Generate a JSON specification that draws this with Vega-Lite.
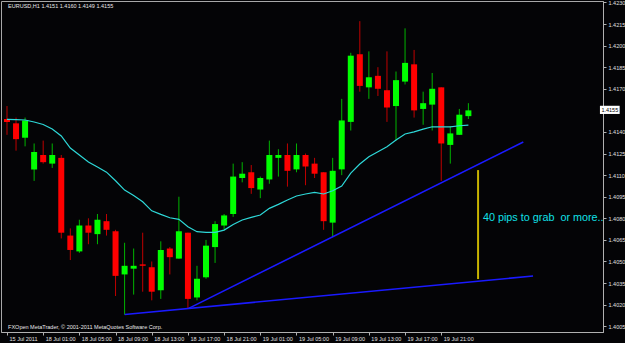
{
  "$schema": "https://vega.github.io/schema/vega-lite/v6.json",
  "width": 602,
  "height": 331,
  "autosize": {"type": "none"},
  "padding": {"left": 1, "top": 1, "right": 22, "bottom": 11},
  "background": "#040406",
  "config": {
    "view": {"stroke": "#a8a8a8", "strokeWidth": 1},
    "axis": {"grid": false, "title": null, "domainColor": "#b0b0b0", "tickColor": "#b0b0b0", "labelColor": "#e0e0e0", "labelFont": "Liberation Sans", "labelFontSize": 5.5, "tickSize": 3, "labelOverlap": false}
  },
  "datasets": {
    "candles": [
      {"i":0,"o":1.4149,"h":1.4158,"l":1.4138,"c":1.4147,"ma":1.41488},
      {"i":1,"o":1.4146,"h":1.4150,"l":1.4127,"c":1.4135,"ma":1.41486},
      {"i":2,"o":1.4136,"h":1.4150,"l":1.4130,"c":1.4148,"ma":1.41483},
      {"i":3,"o":1.4114,"h":1.4132,"l":1.4106,"c":1.4126,"ma":1.41469},
      {"i":4,"o":1.4124,"h":1.4134,"l":1.4118,"c":1.4119,"ma":1.41452},
      {"i":5,"o":1.4118,"h":1.4132,"l":1.4115,"c":1.4124,"ma":1.41420},
      {"i":6,"o":1.4122,"h":1.4124,"l":1.4066,"c":1.4070,"ma":1.41372},
      {"i":7,"o":1.4068,"h":1.4073,"l":1.4051,"c":1.4058,"ma":1.41288},
      {"i":8,"o":1.4057,"h":1.4079,"l":1.4056,"c":1.4075,"ma":1.41240},
      {"i":9,"o":1.4075,"h":1.4080,"l":1.4062,"c":1.4070,"ma":1.41191},
      {"i":10,"o":1.4069,"h":1.4083,"l":1.4062,"c":1.4079,"ma":1.41156},
      {"i":11,"o":1.4078,"h":1.4083,"l":1.4068,"c":1.4072,"ma":1.41121},
      {"i":12,"o":1.4071,"h":1.4072,"l":1.4026,"c":1.4040,"ma":1.41061},
      {"i":13,"o":1.4041,"h":1.4063,"l":1.4013,"c":1.4047,"ma":1.40996},
      {"i":14,"o":1.4045,"h":1.4059,"l":1.4027,"c":1.4047,"ma":1.40958},
      {"i":15,"o":1.4048,"h":1.4070,"l":1.4029,"c":1.4047,"ma":1.40915},
      {"i":16,"o":1.4046,"h":1.4050,"l":1.4023,"c":1.4029,"ma":1.40852},
      {"i":17,"o":1.4030,"h":1.4064,"l":1.4024,"c":1.4058,"ma":1.40827},
      {"i":18,"o":1.4059,"h":1.4060,"l":1.4041,"c":1.4053,"ma":1.40804},
      {"i":19,"o":1.4052,"h":1.4095,"l":1.4052,"c":1.4071,"ma":1.40793},
      {"i":20,"o":1.4070,"h":1.4070,"l":1.4017,"c":1.4024,"ma":1.40741},
      {"i":21,"o":1.4025,"h":1.4047,"l":1.4023,"c":1.4038,"ma":1.40707},
      {"i":22,"o":1.4039,"h":1.4065,"l":1.4038,"c":1.4061,"ma":1.40702},
      {"i":23,"o":1.4060,"h":1.4078,"l":1.4049,"c":1.4076,"ma":1.40702},
      {"i":24,"o":1.4075,"h":1.4083,"l":1.4072,"c":1.4082,"ma":1.40718},
      {"i":25,"o":1.4083,"h":1.4118,"l":1.4081,"c":1.4109,"ma":1.40757},
      {"i":26,"o":1.4108,"h":1.4119,"l":1.4105,"c":1.4111,"ma":1.40788},
      {"i":27,"o":1.4112,"h":1.4117,"l":1.4097,"c":1.4101,"ma":1.40807},
      {"i":28,"o":1.4100,"h":1.4109,"l":1.4094,"c":1.4108,"ma":1.40823},
      {"i":29,"o":1.4107,"h":1.4134,"l":1.4104,"c":1.4124,"ma":1.40869},
      {"i":30,"o":1.4122,"h":1.4128,"l":1.4109,"c":1.4124,"ma":1.40897},
      {"i":31,"o":1.4124,"h":1.4132,"l":1.4102,"c":1.4113,"ma":1.40927},
      {"i":32,"o":1.4114,"h":1.4132,"l":1.4112,"c":1.4124,"ma":1.40955},
      {"i":33,"o":1.4124,"h":1.4125,"l":1.4103,"c":1.4116,"ma":1.40969},
      {"i":34,"o":1.4118,"h":1.4122,"l":1.4108,"c":1.4111,"ma":1.40980},
      {"i":35,"o":1.4112,"h":1.4112,"l":1.4072,"c":1.4078,"ma":1.40969},
      {"i":36,"o":1.4077,"h":1.4122,"l":1.4067,"c":1.4113,"ma":1.40991},
      {"i":37,"o":1.4114,"h":1.4163,"l":1.4110,"c":1.4148,"ma":1.41024},
      {"i":38,"o":1.4147,"h":1.4195,"l":1.4141,"c":1.4193,"ma":1.41114},
      {"i":39,"o":1.4194,"h":1.4217,"l":1.4168,"c":1.4172,"ma":1.41177},
      {"i":40,"o":1.4171,"h":1.4196,"l":1.4163,"c":1.4178,"ma":1.41228},
      {"i":41,"o":1.4179,"h":1.4185,"l":1.4165,"c":1.4170,"ma":1.41262},
      {"i":42,"o":1.4169,"h":1.4196,"l":1.4147,"c":1.4157,"ma":1.41297},
      {"i":43,"o":1.4158,"h":1.4182,"l":1.4134,"c":1.4176,"ma":1.41344},
      {"i":44,"o":1.4175,"h":1.4212,"l":1.4173,"c":1.4188,"ma":1.41386},
      {"i":45,"o":1.4187,"h":1.4197,"l":1.4150,"c":1.4155,"ma":1.41401},
      {"i":46,"o":1.4156,"h":1.4168,"l":1.4145,"c":1.4160,"ma":1.41420},
      {"i":47,"o":1.4159,"h":1.4181,"l":1.4141,"c":1.4170,"ma":1.41436},
      {"i":48,"o":1.4171,"h":1.4171,"l":1.4106,"c":1.4132,"ma":1.41436},
      {"i":49,"o":1.4131,"h":1.4144,"l":1.4118,"c":1.4139,"ma":1.41436},
      {"i":50,"o":1.4138,"h":1.4156,"l":1.4138,"c":1.4152,"ma":1.41443},
      {"i":51,"o":1.4151,"h":1.4160,"l":1.4149,"c":1.4155,"ma":1.41448}
    ],
    "trend": [
      {"id":"lower","ix":13.01,"p":1.40132},
      {"id":"lower","ix":58.15,"p":1.40399},
      {"id":"upper","ix":20.08,"p":1.40174},
      {"id":"upper","ix":57.07,"p":1.4133}
    ],
    "marker": [
      {"ix":52.07,"top":1.41135,"bot":1.40378}
    ],
    "notes": [
      {"kind":"title","ix":0.12,"p":1.42277,"txt":"EURUSD,H1  1.4151 1.4160 1.4149 1.4155"},
      {"kind":"footer","ix":0.12,"p":1.40044,"txt":"FXOpen MetaTrader, © 2001-2011 MetaQuotes Software Corp."},
      {"kind":"pips","ix":52.61,"p":1.40781,"txt":"40 pips to grab \u00a0or more.."}
    ],
    "bid": [
      {"x1":65.54,"x2":67.72,"lo":1.41525,"hi":1.41582,"xm":66.63,"pm":1.41553,"txt":"1.4155"}
    ]
  },
  "layer": [
    {
      "data": {"name": "candles"},
      "mark": {"type": "rule", "strokeWidth": 1, "clip": true},
      "encoding": {
        "x": {"field": "i", "type": "quantitative", "title": null,
          "scale": {"domain": [-0.109, 65.326], "nice": false, "zero": false},
          "axis": {"values": [0,4,8,12,16,20,24,28,32,36,40,44,48], "tickCount": 60,
            "labelExpr": "['15 Jul 2011','18 Jul 01:00','18 Jul 05:00','18 Jul 09:00','18 Jul 13:00','18 Jul 17:00','18 Jul 21:00','19 Jul 01:00','19 Jul 05:00','19 Jul 09:00','19 Jul 13:00','19 Jul 17:00','19 Jul 21:00'][round(datum.value/4)]",
            "labelAlign": "left", "labelBaseline": "top", "labelPadding": 1, "labelOffset": 2,
            "labelFlush": false, "labelOverlap": false}},
        "y": {"field": "l", "type": "quantitative", "title": null,
          "scale": {"domain": [1.40010, 1.42310], "nice": false, "zero": false},
          "axis": {"orient": "right", "tickCount": 60,
            "values": [1.4005,1.402,1.4035,1.405,1.4065,1.408,1.4095,1.411,1.4125,1.414,1.417,1.4185,1.42,1.4215,1.423],
            "format": ".4f", "labelPadding": 2, "labelFlush": false, "labelOverlap": false, "labelBaseline": "middle"}},
        "y2": {"field": "h"},
        "color": {"condition": {"test": "datum.c >= datum.o", "value": "#00b400"}, "value": "#c00000"}
      }
    },
    {
      "data": {"name": "candles"},
      "mark": {"type": "bar", "width": 6, "clip": true},
      "encoding": {
        "x": {"field": "i", "type": "quantitative", "title": null},
        "y": {"field": "o", "type": "quantitative", "title": null},
        "y2": {"field": "c"},
        "color": {"condition": {"test": "datum.c >= datum.o", "value": "#00ff00"}, "value": "#ff0000"}
      }
    },
    {
      "data": {"name": "candles"},
      "mark": {"type": "line", "color": "#2ed8d8", "strokeWidth": 1.2, "clip": true},
      "encoding": {
        "x": {"field": "i", "type": "quantitative", "title": null},
        "y": {"field": "ma", "type": "quantitative", "title": null}
      }
    },
    {
      "data": {"name": "trend"},
      "mark": {"type": "line", "color": "#1a1aff", "strokeWidth": 1.6},
      "encoding": {
        "x": {"field": "ix", "type": "quantitative", "title": null},
        "y": {"field": "p", "type": "quantitative", "title": null},
        "detail": {"field": "id"}
      }
    },
    {
      "data": {"name": "marker"},
      "mark": {"type": "rule", "color": "#c8b400", "strokeWidth": 2},
      "encoding": {
        "x": {"field": "ix", "type": "quantitative", "title": null},
        "y": {"field": "top", "type": "quantitative", "title": null},
        "y2": {"field": "bot"}
      }
    },
    {
      "data": {"name": "notes"},
      "transform": [{"filter": "datum.kind != 'pips'"}],
      "mark": {"type": "text", "align": "left", "baseline": "middle", "font": "Liberation Sans", "fontSize": 5.5, "color": "#e8e8e8"},
      "encoding": {
        "x": {"field": "ix", "type": "quantitative", "title": null},
        "y": {"field": "p", "type": "quantitative", "title": null},
        "text": {"field": "txt"}
      }
    },
    {
      "data": {"name": "notes"},
      "transform": [{"filter": "datum.kind == 'pips'"}],
      "mark": {"type": "text", "align": "left", "baseline": "alphabetic", "font": "Liberation Sans", "fontSize": 10.8, "color": "#10e0e8"},
      "encoding": {
        "x": {"field": "ix", "type": "quantitative", "title": null},
        "y": {"field": "p", "type": "quantitative", "title": null},
        "text": {"field": "txt"}
      }
    },
    {
      "data": {"name": "bid"},
      "mark": {"type": "rect", "color": "#ffffff"},
      "encoding": {
        "x": {"field": "x1", "type": "quantitative", "title": null},
        "x2": {"field": "x2"},
        "y": {"field": "lo", "type": "quantitative", "title": null},
        "y2": {"field": "hi"}
      }
    },
    {
      "data": {"name": "bid"},
      "mark": {"type": "text", "align": "center", "baseline": "middle", "font": "Liberation Sans", "fontSize": 5.5, "color": "#000000"},
      "encoding": {
        "x": {"field": "xm", "type": "quantitative", "title": null},
        "y": {"field": "pm", "type": "quantitative", "title": null},
        "text": {"field": "txt"}
      }
    }
  ]
}
